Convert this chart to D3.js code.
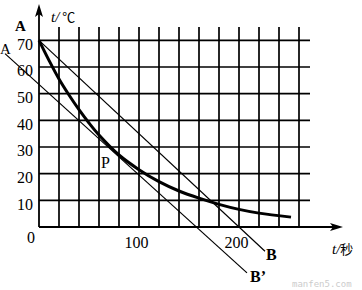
<!DOCTYPE html>
<html><head><meta charset="utf-8">
<script src="https://cdn.jsdelivr.net/npm/d3@7/dist/d3.min.js"></script>
<style>body{margin:0;background:#fff}svg{display:block}</style>
</head><body>
<script>
// data
const yTicks = [10, 20, 30, 40, 50, 60, 70];
const xTicks = [100, 200];
const gridX = [20, 40, 60, 80, 100, 120, 140, 160, 180, 200, 220, 240, 260];
const coolT = [0, 10, 20, 30, 40, 50, 60, 80, 100, 120, 140, 160, 180, 200, 220, 252];
const coolTemp = [70, 62.5, 55.5, 49.5, 44, 39, 34.5, 27, 21.5, 17, 13.5, 10.8, 8.5, 6.6, 5.2, 3.7];
const lineAB = [[0, 70], [226, -9.1]];
const lineA2B2 = [[-34, 65], [208, -17.2]];

const W = 362, H = 290;
const svg = d3.select("body").append("svg").attr("width", W).attr("height", H);
const x = d3.scaleLinear().domain([0, 100]).range([39, 139]);
const y = d3.scaleLinear().domain([0, 75]).range([227, 27]);
const serif = "'Liberation Serif','DejaVu Serif',serif";

// grid
svg.append("g").selectAll("line").data(gridX).join("line")
  .attr("x1", d => x(d)).attr("x2", d => x(d)).attr("y1", y(0)).attr("y2", y(75))
  .attr("stroke", "#000").attr("stroke-width", 1.7);
svg.append("g").selectAll("line").data(yTicks).join("line")
  .attr("x1", x(0)).attr("x2", x(271)).attr("y1", d => y(d)).attr("y2", d => y(d))
  .attr("stroke", "#000").attr("stroke-width", 1.7);

// axes lines with arrows
svg.append("line").attr("x1", x(0)).attr("x2", 338).attr("y1", y(0)).attr("y2", y(0))
  .attr("stroke", "#000").attr("stroke-width", 1.8);
svg.append("path").attr("d", `M${343},${y(0)} L${330},${y(0)-4} L${333},${y(0)} L${330},${y(0)+4} Z`).attr("fill", "#000");
svg.append("line").attr("x1", x(0)).attr("x2", x(0)).attr("y1", y(0)).attr("y2", 9)
  .attr("stroke", "#000").attr("stroke-width", 1.8);
svg.append("path").attr("d", `M${x(0)},4 L${x(0)-4},17 L${x(0)},14 L${x(0)+4},17 Z`).attr("fill", "#000");

// y axis labels
const ya = svg.append("g").attr("transform", `translate(${x(0)},0)`)
  .call(d3.axisLeft(y).tickValues(yTicks).tickSize(0).tickPadding(6));
ya.select(".domain").remove();
ya.selectAll("text").attr("font-family", serif).attr("font-size", 16).attr("dy", "0.55em").attr("fill", "#000");

// x axis labels
const xa = svg.append("g").attr("transform", `translate(0,${y(0)})`)
  .call(d3.axisBottom(x).tickValues(xTicks).tickSize(0).tickPadding(10));
xa.select(".domain").remove();
xa.selectAll("text").attr("font-family", serif).attr("font-size", 16).attr("dx", -3).attr("fill", "#000");
svg.append("text").attr("x", 31).attr("y", 243).attr("text-anchor", "middle")
  .attr("font-family", serif).attr("font-size", 16).text("0");

// straight lines
const lg = d3.line().x(d => x(d[0])).y(d => y(d[1]));
svg.append("path").attr("d", lg(lineAB)).attr("fill", "none").attr("stroke", "#000").attr("stroke-width", 1.2);
svg.append("path").attr("d", lg(lineA2B2)).attr("fill", "none").attr("stroke", "#000").attr("stroke-width", 1.2);

// cooling curve
const cg = d3.line().x((d, i) => x(coolT[i])).y((d, i) => y(coolTemp[i])).curve(d3.curveCatmullRom);
svg.append("path").attr("d", cg(coolT)).attr("fill", "none").attr("stroke", "#000").attr("stroke-width", 3);

// labels
function lab(t, px, py, opts = {}) {
  return svg.append("text").attr("x", px).attr("y", py).attr("font-family", serif)
    .attr("font-size", opts.size || 16).attr("font-style", opts.italic ? "italic" : "normal")
    .attr("font-weight", opts.bold ? "bold" : "normal").attr("fill", opts.fill || "#000").text(t);
}
lab("A", 15, 31, {bold: true, size: 15});
lab("A", 0, 54, {size: 15});
lab("P", 101, 168, {size: 16});
lab("B", 266, 260, {bold: true, size: 16});
lab("B\u2019", 250, 282, {bold: true, size: 16});
const t1 = svg.append("text").attr("x", 51).attr("y", 22).attr("font-family", serif).attr("font-size", 15);
t1.append("tspan").attr("font-style", "italic").text("t/");
t1.append("tspan").attr("font-family", "'Noto Sans CJK SC',sans-serif").attr("font-size", 13).attr("dx", 3).text("℃");
const t2 = svg.append("text").attr("x", 332).attr("y", 254).attr("font-family", serif).attr("font-size", 15);
t2.append("tspan").attr("font-style", "italic").text("t/");
t2.append("tspan").attr("font-family", "'Noto Sans CJK SC',sans-serif").attr("font-size", 13).text("秒");
lab("manfen5.com", 292, 287, {size: 9, fill: "#ccc"}).attr("font-family", "'DejaVu Sans Mono',monospace");
</script>
</body></html>
